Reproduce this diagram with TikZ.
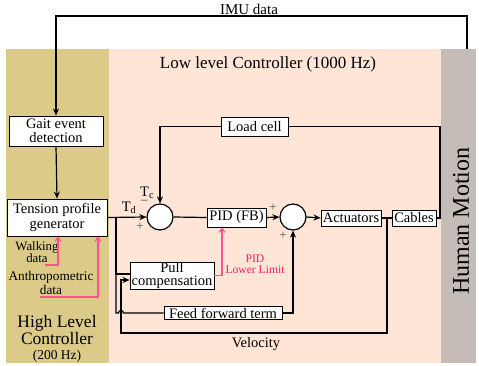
\documentclass[tikz,border=0pt]{standalone}
\usepackage{fontspec}
\setmainfont{Liberation Serif}
\newfontfamily\ser{Liberation Serif}
\usetikzlibrary{arrows.meta,calc}
\definecolor{hlc}{RGB}{220,203,136}
\definecolor{llc}{RGB}{255,229,213}
\definecolor{hmc}{RGB}{198,188,183}
\definecolor{pinkline}{RGB}{255,80,150}
\definecolor{pinktext}{RGB}{255,30,100}
\definecolor{signc}{RGB}{85,85,85}
\begin{document}
\ser
\begin{tikzpicture}[x=1pt,y=-1pt,
  blk/.style={draw=black,fill=white,line width=0.9pt,inner sep=0pt,align=center,
    font=\ser\fontsize{14.5}{14}\selectfont},
  sumc/.style={draw=black,fill=white,circle,line width=1.2pt,minimum size=26pt,inner sep=0pt},
  wire/.style={line width=1.2pt},
  arr/.style={wire,-{Stealth[length=7pt,width=6pt]}},
  pinkarr/.style={line width=1.1pt,draw=pinkline,-{Straight Barb[length=4pt,width=6pt]}},
  lbl/.style={inner sep=0pt,font=\ser\fontsize{14.5}{14}\selectfont},
  sgn/.style={inner sep=0pt,text=signc,font=\ser\fontsize{13}{13}\selectfont}]
\useasboundingbox (0,0) rectangle (479,366);
% panels
\fill[hlc] (6,49) rectangle (109,363);
\fill[llc] (109,49) rectangle (441,363);
\fill[hmc] (441,49) rectangle (476,363);
% texts of panels
\node[inner sep=0pt,font=\ser\fontsize{17}{17}\selectfont] (lltitle) at (268,64) {Low level Controller (1000 Hz)};
\node[inner sep=0pt,align=center,font=\ser\fontsize{17.5}{17}\selectfont] (hltitle) at (57,330) {High Level\\Controller};
\node[inner sep=0pt,font=\ser\fontsize{13.5}{13}\selectfont] (hlhz) at (57,356.5) {(200 Hz)};
\node[inner sep=0pt,rotate=90,font=\ser\fontsize{24}{24}\selectfont] (hm) at (461,221) {Human Motion};
% blocks
\node[blk,minimum width=94pt,minimum height=30pt,font=\ser\fontsize{14.5}{14.5}\selectfont] (gait) at (56,131) {Gait event\\detection};
\node[blk,minimum width=100pt,minimum height=37pt,font=\ser\fontsize{14.5}{15.5}\selectfont] (tpg) at (57,217.5) {Tension profile\\generator};
\node[blk,minimum width=67pt,minimum height=19pt] (load) at (254.5,126.5) {Load cell};
\node[blk,minimum width=59pt,minimum height=19pt] (pid) at (236.5,217.5) {PID (FB)};
\node[sumc] (s1) at (160,217) {};
\node[sumc] (s2) at (293,217) {};
\node[blk,minimum width=60pt,minimum height=16pt] (act) at (351,218) {Actuators};
\node[blk,minimum width=44pt,minimum height=16pt] (cab) at (414,218) {Cables};
\node[blk,minimum width=84pt,minimum height=27pt,font=\ser\fontsize{14.5}{13}\selectfont] (pull) at (172,275.5) {Pull\\compensation};
\node[blk,minimum width=118pt,minimum height=13pt] (ff) at (223,313) {Feed forward term};
% labels
\node[inner sep=0pt,font=\ser\fontsize{15}{15}\selectfont] (imulbl) at (249,9) {IMU data};
\node[lbl] (td) at (129,208) {T\textsubscript{d}};
\node[inner sep=0pt,anchor=north west,align=left,font=\ser\fontsize{14.5}{7}\selectfont] (tc) at (140,187) {T\textsubscript{c}\\\textcolor{signc}{\textminus}};
\node[sgn] (p1) at (140,227) {+};
\node[sgn] (p2) at (273,208) {+};
\node[sgn] (p3) at (283,236) {+};
\node[inner sep=0pt,align=center,text=pinktext,font=\ser\fontsize{11.6}{11}\selectfont] (pll) at (255,264.5) {PID\\Lower Limit};
\node[inner sep=0pt,align=center,font=\ser\fontsize{12.8}{10.5}\selectfont] (wd) at (37,252) {Walking\\data};
\node[inner sep=0pt,align=center,font=\ser\fontsize{13.3}{14}\selectfont] (ad) at (51,283) {Anthropometric\\data};
\node[lbl] (vel) at (256,344) {Velocity};
% coordinates
\coordinate (imuR) at (467,49);
\coordinate (imuT) at (467,16);
\coordinate (cabR) at (440,218);
\coordinate (vsplit) at (387,218);
\coordinate (velC) at (121,333);
\coordinate (tdS) at (116,217);
\coordinate (ffc) at (116,313);
\coordinate (wdS) at (45,265);
\coordinate (adS) at (40,297);
% connectors
\draw[arr] (imuR) -- (imuT) -| (gait.north);
\draw[arr] (gait.south) -- (tpg.north);
\draw[arr] (tpg.east) -- (s1.west);
\draw[arr] (load.west) -| (s1.north);
\draw[wire] (cab.east) -- (cabR) |- (load.east);
\draw[wire] (s1.east) -- (pid.west);
\draw[arr] (pid.east) -- (s2.west);
\draw[arr] (s2.east) -- (act.west);
\draw[wire] (act.east) -- (cab.west);
\draw[arr] (vsplit) |- (velC) |- ([yshift=-4.5pt]pull.west);
\draw[wire] (tdS) |- ([yshift=1.5pt]pull.west);
\draw[wire] (tdS) -- (ffc) -- (118.5,313) arc[start angle=180,end angle=0,radius=2.5pt] -- (ff.west);
\draw[arr] (ff.east) -| (s2.south);
\draw[pinkarr] (pull.east) -| ([xshift=-14.5pt]pid.south);
\draw[pinkarr] (wdS) -| ([xshift=1pt]tpg.south);
\draw[pinkarr] (adS) -| ([xshift=41pt]tpg.south);
\end{tikzpicture}
\end{document}
